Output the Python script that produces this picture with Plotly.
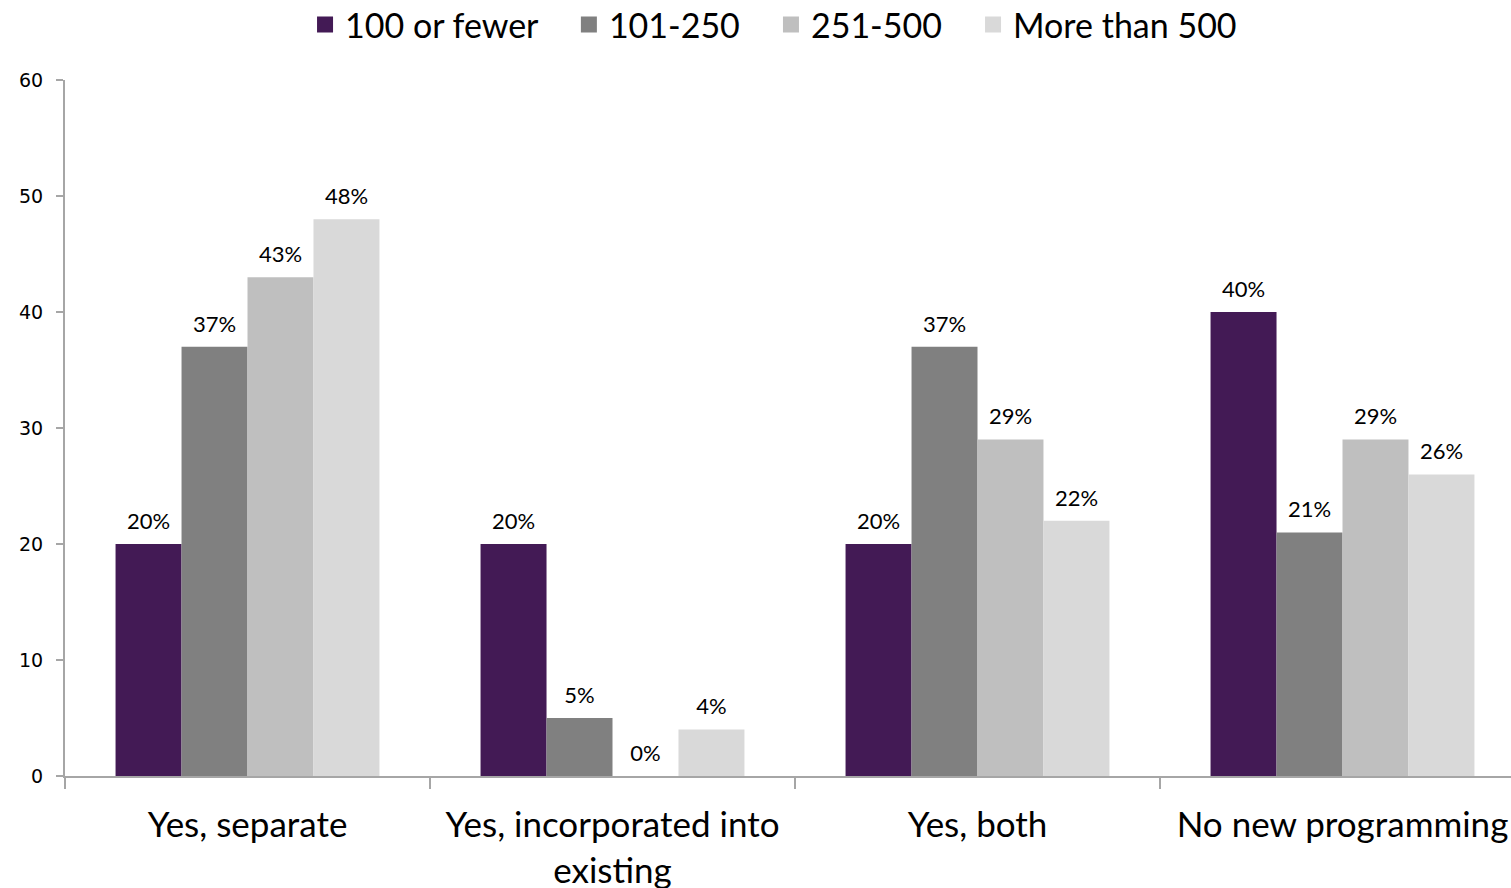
import plotly.graph_objects as go

categories = ["Yes, separate", "Yes, incorporated into<br>existing", "Yes, both", "No new programming"]
series_names = ["100 or fewer", "101-250", "251-500", "More than 500"]
values_100_or_fewer = [20, 20, 20, 40]
values_101_250 = [37, 5, 37, 21]
values_251_500 = [43, 0, 29, 29]
values_more_than_500 = [48, 4, 22, 26]
y_ticks = [0, 10, 20, 30, 40, 50, 60]

series_values = [values_100_or_fewer, values_101_250, values_251_500, values_more_than_500]
colors = ["#431A55", "#808080", "#BFBFBF", "#D9D9D9"]
legend_pad = "\u00a0\u00a0\u00a0"

fig = go.Figure()
for i, (name, vals, col) in enumerate(zip(series_names, series_values, colors)):
    fig.add_trace(go.Bar(
        x=categories, y=vals, name=name, showlegend=False,
        offsetgroup=name,
        marker=dict(color=col, line=dict(width=0)),
    ))
    # value labels, grouped like the bars and lifted by an invisible marker
    fig.add_trace(go.Scatter(
        x=categories, y=vals, name=name, showlegend=False,
        offsetgroup=name, mode="markers+text",
        marker=dict(size=14, opacity=0),
        text=[f"{v}%" for v in vals], textposition="top center",
        textfont=dict(family="Lato, sans-serif", size=22, color="#000000"),
        cliponaxis=False, hoverinfo="skip",
    ))
    # legend entry with a larger square swatch
    fig.add_trace(go.Scatter(
        x=[None], y=[None], offsetgroup=name,
        name=name + (legend_pad if i < len(series_names) - 1 else ""),
        mode="markers",
        marker=dict(symbol="square", size=20, color=col),
    ))

fig.update_layout(
    width=1511, height=888,
    margin=dict(l=65, r=0, t=80, b=112),
    paper_bgcolor="white", plot_bgcolor="white",
    barmode="group", bargap=0.277, bargroupgap=0,
    scattermode="group", scattergap=0.277,
    showlegend=True,
    legend=dict(orientation="h", x=0.49, xanchor="center", y=0.972, yanchor="middle",
                yref="container", font=dict(family="Lato, sans-serif", size=34, color="#000000"),
                itemwidth=30, traceorder="normal"),
    font=dict(family="Lato, sans-serif", color="#000000"),
)

fig.update_xaxes(
    type="category", range=[-0.5, 3.5 - 14 / 365], automargin=False,
    showline=True, linecolor="#A6A6A6", linewidth=2,
    ticks="outside", tickson="boundaries", ticklen=11, tickcolor="#A6A6A6", tickwidth=2,
    tickfont=dict(family="Lato, sans-serif", size=35, color="#000000"),
    ticklabelstandoff=17,
    showgrid=False, zeroline=False,
)
fig.update_yaxes(
    range=[0, 60], tickvals=y_ticks, automargin=False,
    showline=True, linecolor="#A6A6A6", linewidth=2,
    ticks="outside", ticklen=7, tickcolor="#A6A6A6", tickwidth=2,
    tickfont=dict(family="DejaVu Sans, sans-serif", size=19, color="#000000"),
    ticklabelstandoff=9,
    showgrid=False, zeroline=False,
)

fig.write_html("out.html")
